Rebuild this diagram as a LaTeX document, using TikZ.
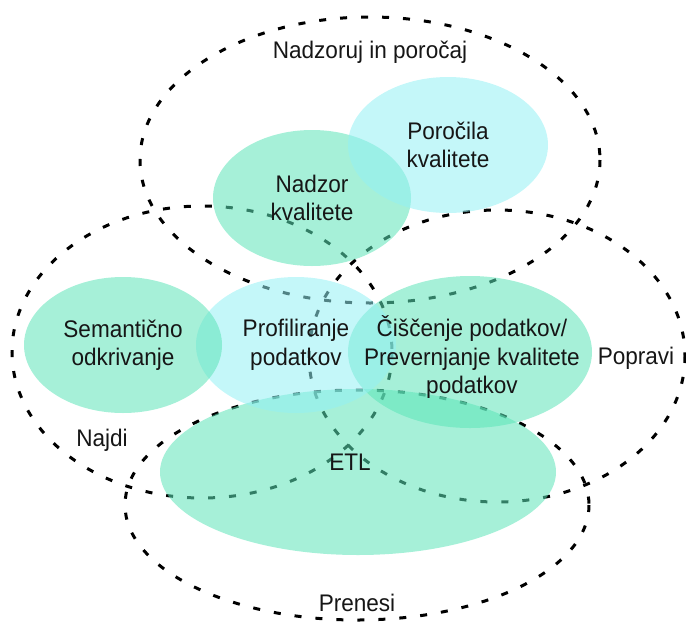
\documentclass[tikz,border=0pt]{standalone}
\usepackage{fontspec}
\setmainfont{Liberation Sans}[FakeStretch=0.94]
\usetikzlibrary{shapes.geometric}
\definecolor{mint}{RGB}{92,228,184}
\definecolor{aqua}{RGB}{148,240,244}
\definecolor{ink}{RGB}{22,22,22}
\begin{document}
\begin{tikzpicture}[x=1pt,y=-1pt,
  area/.style={draw=black, line width=3pt, dash pattern=on 7pt off 14pt},
  blob/.style={ellipse, inner sep=0pt, fill opacity=0.55, text opacity=1,
    align=center, text=ink, font=\fontsize{24}{28.5}\selectfont},
  greenblob/.style={blob, fill=mint},
  cyanblob/.style={blob, fill=aqua},
  caption/.style={text=ink, align=center, font=\fontsize{24}{28.5}\selectfont, inner sep=0pt}]
\useasboundingbox (0,0) rectangle (686,630);

% the four dashed activity areas
\draw[area] (370,160) ellipse [x radius=230, y radius=143];
\draw[area] (202,352) ellipse [x radius=190, y radius=146];
\draw[area] (497,356) ellipse [x radius=188, y radius=146];
\draw[area] (357,505) ellipse [x radius=232, y radius=115];

% tools inside the areas
\node[greenblob, minimum width=396pt, minimum height=166pt] (etl) at (358,472) {};
\node[greenblob, minimum width=244pt, minimum height=152pt] (ciscenje) at (470,352) {};
\node[cyanblob, minimum width=200pt, minimum height=136pt] (profil) at (296,345)
  {Profiliranje\\podatkov};
\node[greenblob, minimum width=198pt, minimum height=136pt] (semant) at (123,345)
  {Semantično\\odkrivanje};
\node[greenblob, minimum width=198pt, minimum height=136pt] (nadzor) at (312,198)
  {Nadzor\\kvalitete};
\node[cyanblob, minimum width=200pt, minimum height=136pt] (porocila) at (448,145)
  {Poročila\\kvalitete};
\node[caption] (etllabel) at (350,462) {ETL};
\node[caption] (cisclabel) at (472,357)
  {Čiščenje podatkov/\\Prevernjanje kvalitete\\podatkov};

% names of the areas
\node[caption] (nadzoruj) at (370,52) {Nadzoruj in poročaj};
\node[caption] (najdi) at (102,440) {Najdi};
\node[caption] (popravi) at (636,358) {Popravi};
\node[caption] (prenesi) at (357,603) {Prenesi};
\end{tikzpicture}
\end{document}
